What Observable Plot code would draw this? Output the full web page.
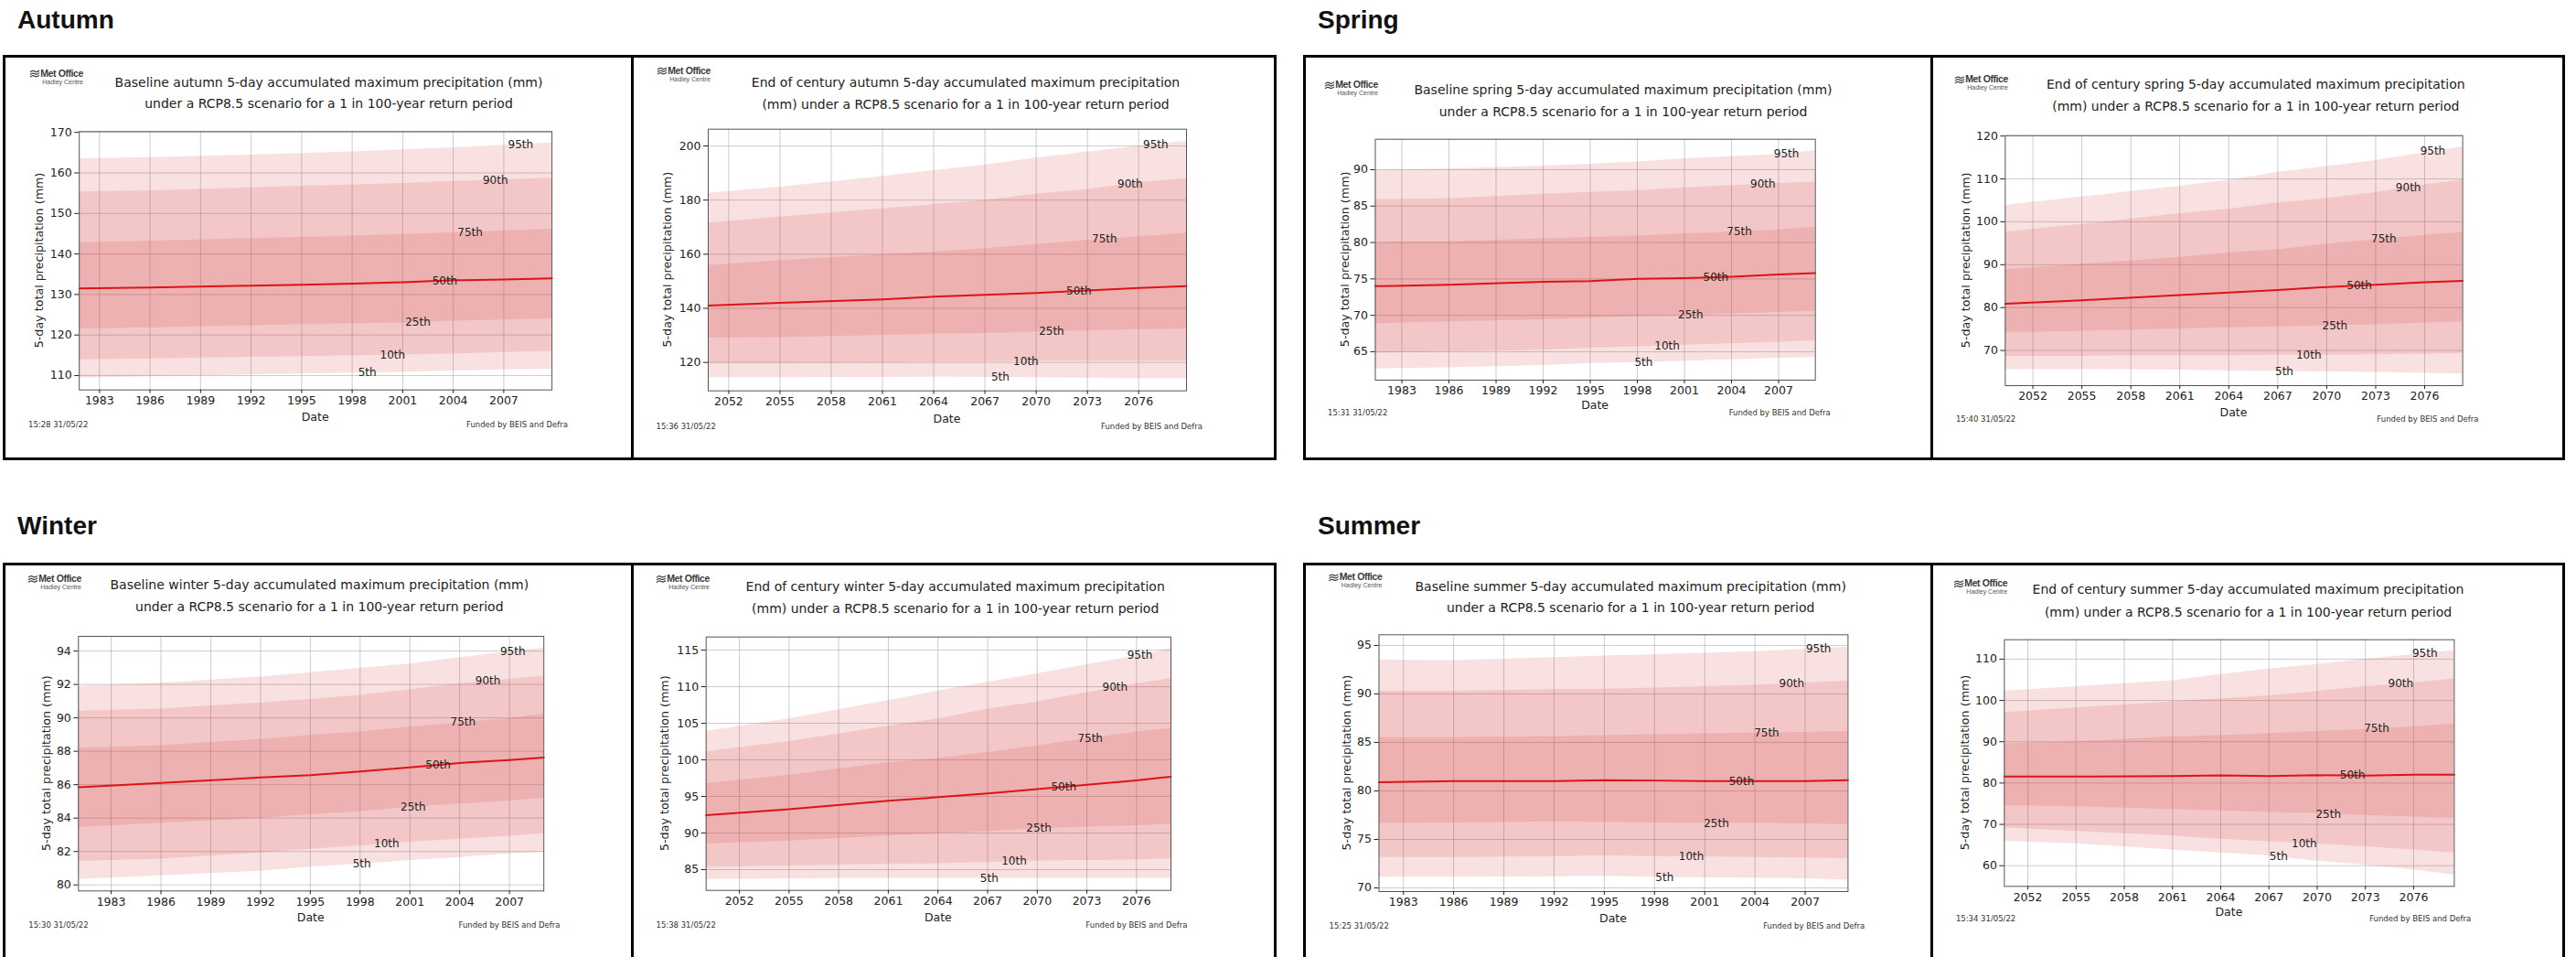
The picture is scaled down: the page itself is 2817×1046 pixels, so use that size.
<!DOCTYPE html>
<html><head><meta charset="utf-8">
<script src="https://cdn.jsdelivr.net/npm/d3@7"></script>
<script src="https://cdn.jsdelivr.net/npm/@observablehq/plot@0.6"></script>
<style>
html,body{margin:0;padding:0;background:#fff;}
body{width:2817px;height:1046px;position:relative;overflow:hidden;}
.head{position:absolute;font-family:"Liberation Sans",Arial,sans-serif;font-weight:bold;font-size:28px;color:#111;line-height:28px;white-space:nowrap;}
.box{position:absolute;border:3px solid #000;box-sizing:border-box;pointer-events:none;}
.divider{position:absolute;background:#000;width:3px;pointer-events:none;}
</style></head><body>
<script>
// ---------- data ----------
const percentiles = ["5th","10th","25th","50th","75th","90th","95th"];
const seasons = ["Autumn","Spring","Winter","Summer"];
const baselineTicks = [1983,1986,1989,1992,1995,1998,2001,2004,2007];
const futureTicks = [2052,2055,2058,2061,2064,2067,2070,2073,2076];
const stamps = {autumnBase:"15:28 31/05/22", autumnFuture:"15:36 31/05/22", springBase:"15:31 31/05/22", springFuture:"15:40 31/05/22",
  winterBase:"15:30 31/05/22", winterFuture:"15:38 31/05/22", summerBase:"15:25 31/05/22", summerFuture:"15:34 31/05/22"};

// sample years (left edge, gridline years, right edge)
const autumnBaseYears = [1981.8, 1986, 1992, 1995, 1998, 2001, 2004, 2007, 2009.86];
const springBaseYears = [1981.31, 1986, 1992, 1995, 1998, 2001, 2004, 2007, 2009.34];
const winterBaseYears = [1981.03, 1986, 1992, 1995, 1998, 2001, 2004, 2007, 2009.07];
const summerBaseYears = [1981.54, 1986, 1992, 1995, 1998, 2001, 2004, 2007, 2009.56];
const autumnFutureYears = [2050.8, 2055, 2061, 2064, 2067, 2070, 2073, 2076, 2078.8];
const springFutureYears = [2050.31, 2055, 2061, 2064, 2067, 2070, 2073, 2076, 2078.33];
const winterFutureYears = [2049.99, 2055, 2061, 2064, 2067, 2070, 2073, 2076, 2078.08];
const summerFutureYears = [2050.54, 2055, 2061, 2064, 2067, 2070, 2073, 2076, 2078.53];

// rows: 5th, 10th, 25th, 50th, 75th, 90th, 95th percentile (mm)
const autumnBase = [
  [109.4, 109.7, 110.2, 110.4, 110.6, 110.8, 111.1, 111.4, 111.5],
  [113.9, 114.1, 114.5, 114.7, 114.9, 115.1, 115.3, 115.7, 115.9],
  [121.5, 121.8, 122.3, 122.6, 122.8, 123.0, 123.4, 123.7, 124.0],
  [131.5, 131.7, 132.2, 132.4, 132.7, 133.0, 133.5, 133.7, 134.0],
  [142.8, 143.2, 143.8, 144.1, 144.4, 144.8, 145.2, 145.7, 146.1],
  [155.3, 155.6, 156.3, 156.7, 157.0, 157.4, 157.9, 158.3, 158.7],
  [163.5, 163.8, 164.4, 164.8, 165.2, 165.7, 166.2, 166.8, 167.4]];
const autumnFuture = [
  [114.4, 114.4, 114.5, 114.6, 114.5, 114.4, 114.2, 114.0, 114.0],
  [119.7, 119.7, 120.0, 120.2, 120.2, 120.5, 120.5, 120.5, 120.5],
  [129.0, 129.2, 130.0, 130.5, 130.7, 131.2, 131.7, 132.1, 132.4],
  [141.0, 142.0, 143.3, 144.3, 145.0, 145.7, 146.6, 147.5, 148.2],
  [155.9, 157.6, 159.9, 160.8, 162.1, 163.6, 165.1, 166.4, 167.8],
  [171.5, 173.7, 176.8, 178.3, 179.9, 182.2, 183.9, 186.5, 187.8],
  [182.5, 184.8, 188.7, 190.9, 192.9, 195.5, 197.7, 199.9, 201.7]];
const springBase = [
  [62.65, 62.8, 63.1, 63.4, 63.5, 63.7, 63.9, 64.1, 64.2],
  [64.8, 65.0, 65.2, 65.5, 65.7, 65.9, 66.1, 66.3, 66.5],
  [68.85, 69.1, 69.4, 69.6, 69.8, 70.0, 70.2, 70.4, 70.6],
  [74.0, 74.2, 74.6, 74.7, 75.0, 75.1, 75.3, 75.6, 75.8],
  [80.0, 80.1, 80.5, 80.7, 80.9, 81.2, 81.4, 81.75, 82.1],
  [85.9, 86.0, 86.65, 86.9, 87.1, 87.5, 87.8, 88.1, 88.3],
  [89.9, 90.1, 90.5, 90.75, 91.05, 91.5, 91.8, 92.1, 92.6]];
const springFuture = [
  [65.6, 65.6, 65.4, 65.2, 65.1, 65.0, 64.9, 64.7, 64.5],
  [68.6, 68.65, 68.8, 68.8, 68.9, 68.9, 69.0, 69.1, 69.3],
  [74.1, 74.5, 75.0, 75.3, 75.5, 75.8, 76.0, 76.4, 76.6],
  [80.9, 81.7, 82.9, 83.5, 84.1, 84.8, 85.3, 85.9, 86.2],
  [88.85, 90.1, 91.7, 92.8, 93.5, 94.8, 95.8, 96.9, 97.5],
  [97.6, 99.4, 101.9, 102.9, 104.4, 105.4, 106.8, 108.6, 109.7],
  [103.8, 105.8, 108.3, 109.7, 111.5, 112.9, 114.3, 116.1, 117.5]];
const winterBase = [
  [80.33, 80.55, 80.82, 81.06, 81.24, 81.46, 81.64, 81.86, 81.95],
  [81.41, 81.55, 81.92, 82.14, 82.34, 82.56, 82.74, 82.92, 83.07],
  [83.43, 83.69, 83.98, 84.2, 84.38, 84.66, 84.84, 85.02, 85.2],
  [85.84, 86.1, 86.43, 86.57, 86.79, 87.03, 87.3, 87.48, 87.63],
  [88.18, 88.34, 88.7, 88.95, 89.16, 89.45, 89.71, 89.95, 90.22],
  [90.4, 90.53, 90.9, 91.1, 91.35, 91.68, 92.05, 92.3, 92.5],
  [91.9, 92.08, 92.45, 92.7, 92.96, 93.23, 93.6, 93.96, 94.18]];
const winterFuture = [
  [83.67, 83.75, 83.8, 83.8, 83.8, 83.8, 83.8, 83.8, 83.8],
  [85.3, 85.5, 85.75, 85.8, 86.0, 86.2, 86.25, 86.3, 86.5],
  [88.5, 88.9, 89.6, 89.9, 90.2, 90.6, 90.8, 91.0, 91.2],
  [92.45, 93.25, 94.4, 94.9, 95.4, 96.0, 96.6, 97.2, 97.7],
  [96.75, 97.9, 99.6, 100.2, 101.0, 101.9, 102.9, 103.8, 104.3],
  [101.1, 102.5, 104.6, 105.6, 106.9, 107.9, 109.2, 110.4, 111.1],
  [103.9, 105.6, 108.1, 109.4, 110.6, 111.75, 113.0, 114.2, 115.2]];
const summerBase = [
  [71.1, 71.1, 71.16, 71.19, 71.1, 71.04, 71.0, 70.94, 70.79],
  [73.14, 73.14, 73.24, 73.3, 73.24, 73.2, 73.14, 73.08, 72.99],
  [76.67, 76.7, 76.82, 76.76, 76.7, 76.67, 76.67, 76.6, 76.54],
  [80.9, 81.0, 81.0, 81.1, 81.07, 81.0, 81.0, 81.0, 81.1],
  [85.5, 85.5, 85.6, 85.7, 85.8, 85.9, 85.97, 86.04, 86.13],
  [90.28, 90.28, 90.44, 90.5, 90.6, 90.75, 90.9, 91.13, 91.32],
  [93.5, 93.43, 93.74, 93.9, 94.06, 94.2, 94.37, 94.6, 94.84]];
const summerFuture = [
  [65.9, 65.3, 63.8, 63.1, 62.4, 61.1, 60.15, 59.0, 57.7],
  [69.2, 68.3, 67.2, 66.4, 65.8, 65.3, 64.6, 63.8, 63.1],
  [74.55, 74.3, 73.6, 73.3, 72.9, 72.6, 72.2, 71.8, 71.45],
  [81.56, 81.56, 81.7, 81.85, 81.7, 81.9, 81.8, 82.0, 82.0],
  [89.5, 90.0, 91.2, 91.5, 92.0, 92.5, 93.0, 93.6, 94.3],
  [97.1, 98.2, 99.7, 100.4, 101.1, 102.2, 103.35, 104.2, 105.2],
  [102.25, 103.35, 104.8, 106.3, 107.6, 108.7, 110.0, 111.1, 112.1]];

// year at which each percentile label is written
const autumnBaseLabelYears = [1998.9, 2000.4, 2001.9, 2003.5, 2005.0, 2006.5, 2008.0];
const springBaseLabelYears = [1998.4, 1999.9, 2001.4, 2003.0, 2004.5, 2006.0, 2007.5];
const winterBaseLabelYears = [1998.1, 1999.6, 2001.2, 2002.7, 2004.2, 2005.7, 2007.2];
const summerBaseLabelYears = [1998.6, 2000.2, 2001.7, 2003.2, 2004.7, 2006.2, 2007.8];
const autumnFutureLabelYears = [2067.9, 2069.4, 2070.9, 2072.5, 2074.0, 2075.5, 2077.0];
const springFutureLabelYears = [2067.4, 2068.9, 2070.5, 2072.0, 2073.5, 2075.0, 2076.5];
const winterFutureLabelYears = [2067.1, 2068.6, 2070.1, 2071.6, 2073.2, 2074.7, 2076.2];
const summerFutureLabelYears = [2067.6, 2069.2, 2070.7, 2072.2, 2073.7, 2075.2, 2076.7];

// y axis domains and ticks
const autumnBaseY = [106.45, 170.2], autumnBaseTicks = [110,120,130,140,150,160,170];
const autumnFutureY = [109.5, 206.2], autumnFutureTicks = [120,140,160,180,200];
const springBaseY = [61.1, 94.18], springBaseTicks = [65,70,75,80,85,90];
const springFutureY = [61.8, 120.1], springFutureTicks = [70,80,90,100,110,120];
const winterBaseY = [79.64, 94.88], winterBaseTicks = [80,82,84,86,88,90,92,94];
const winterFutureY = [82.16, 116.8], winterFutureTicks = [85,90,95,100,105,110,115];
const summerBaseY = [69.62, 96.1], summerBaseTicks = [70,75,80,85,90,95];
const summerFutureY = [55.0, 114.7], summerFutureTicks = [60,70,80,90,100,110];

// ---------- layout (page pixels) ----------
const panels = [
  {season:"autumn", kind:"base", years:autumnBaseYears, series:autumnBase, yDomain:autumnBaseY, yTicks:autumnBaseTicks, labelYears:autumnBaseLabelYears, stamp:stamps.autumnBase,
   box:[6,62,684,438], frame:[86.2,143.3,603.1,425.7], titleX:359.5, titleY:[90,113.3], ylabX:42.4, dateY:455.7, footY:464, stampX:31, fundX:621, logo:[91,80]},
  {season:"autumn", kind:"future", years:autumnFutureYears, series:autumnFuture, yDomain:autumnFutureY, yTicks:autumnFutureTicks, labelYears:autumnFutureLabelYears, stamp:stamps.autumnFuture,
   box:[693,62,699,438], frame:[774,140.7,1297,426.7], titleX:1056, titleY:[90,114.3], ylabX:729, dateY:457.3, footY:465.7, stampX:717.5, fundX:1315, logo:[777,77]},
  {season:"spring", kind:"base", years:springBaseYears, series:springBase, yDomain:springBaseY, yTicks:springBaseTicks, labelYears:springBaseLabelYears, stamp:stamps.springBase,
   box:[1428,62,683,438], frame:[1503.5,151.7,1984.7,415], titleX:1775, titleY:[97.7,121.7], ylabX:1470, dateY:442.7, footY:450.7, stampX:1452, fundX:2001.7, logo:[1507,92.7]},
  {season:"spring", kind:"future", years:springFutureYears, series:springFuture, yDomain:springFutureY, yTicks:springFutureTicks, labelYears:springFutureLabelYears, stamp:stamps.springFuture,
   box:[2114,62,687,438], frame:[2192.4,147.7,2692.6,421], titleX:2466.8, titleY:[91.7,115.7], ylabX:2149.4, dateY:450, footY:458.3, stampX:2138.9, fundX:2710.4, logo:[2196,86.7]},
  {season:"winter", kind:"base", years:winterBaseYears, series:winterBase, yDomain:winterBaseY, yTicks:winterBaseTicks, labelYears:winterBaseLabelYears, stamp:stamps.winterBase,
   box:[6,618,684,428], frame:[85.3,695,594.2,973.3], titleX:349.3, titleY:[638.7,662.7], ylabX:50, dateY:1002.7, footY:1011, stampX:31.3, fundX:612.5, logo:[89,632.3]},
  {season:"winter", kind:"future", years:winterFutureYears, series:winterFuture, yDomain:winterFutureY, yTicks:winterFutureTicks, labelYears:winterFutureLabelYears, stamp:stamps.winterFuture,
   box:[693,618,699,428], frame:[771.7,695.7,1280,972.7], titleX:1044.7, titleY:[640.7,665], ylabX:726.7, dateY:1002.7, footY:1011, stampX:717.5, fundX:1298.4, logo:[776,632.3]},
  {season:"summer", kind:"base", years:summerBaseYears, series:summerBase, yDomain:summerBaseY, yTicks:summerBaseTicks, labelYears:summerBaseLabelYears, stamp:stamps.summerBase,
   box:[1428,618,683,428], frame:[1507.5,693.3,2020.4,974], titleX:1783.2, titleY:[640.7,664.3], ylabX:1472.2, dateY:1003.3, footY:1012, stampX:1453.5, fundX:2039.2, logo:[1511.5,630.7]},
  {season:"summer", kind:"future", years:summerFutureYears, series:summerFuture, yDomain:summerFutureY, yTicks:summerFutureTicks, labelYears:summerFutureLabelYears, stamp:stamps.summerFuture,
   box:[2114,618,687,428], frame:[2191.4,698.7,2683.4,968.3], titleX:2458.5, titleY:[644.3,669], ylabX:2148, dateY:996.7, footY:1004, stampX:2138.9, fundX:2702.2, logo:[2195.1,637.7]}
];

function interp(xs, ys, x) {
  const i = Math.max(1, Math.min(xs.length - 1, d3.bisectLeft(xs, x)));
  const t = (x - xs[i-1]) / (xs[i] - xs[i-1]);
  return ys[i-1] + t * (ys[i] - ys[i-1]);
}

const FONT = "'DejaVu Sans', sans-serif";
const BAND = "#d62728";

for (const p of panels) {
  const rows = p.years.map((yr, i) => ({year: yr, p5: p.series[0][i], p10: p.series[1][i], p25: p.series[2][i], p50: p.series[3][i], p75: p.series[4][i], p90: p.series[5][i], p95: p.series[6][i]}));
  const labels = percentiles.map((name, k) => ({year: p.labelYears[k], value: interp(p.years, p.series[k], p.labelYears[k]), text: name}));
  const xTicks = p.kind === "base" ? baselineTicks : futureTicks;
  const [bx, by, bw, bh] = p.box;
  const [fx0, fy0, fx1, fy1] = p.frame;
  const svg = Plot.plot({
    width: bw, height: bh,
    marginLeft: fx0 - bx, marginTop: fy0 - by, marginRight: bx + bw - fx1, marginBottom: by + bh - fy1,
    x: {domain: [p.years[0], p.years[p.years.length - 1]]},
    y: {domain: p.yDomain},
    style: {fontFamily: FONT, fontSize: "12.5px", color: "#222", background: "transparent", overflow: "visible"},
    marks: [
      Plot.gridX(xTicks, {stroke: "#b0b0b0", strokeOpacity: 0.65, strokeWidth: 1}),
      Plot.gridY(p.yTicks, {stroke: "#b0b0b0", strokeOpacity: 0.65, strokeWidth: 1}),
      Plot.areaY(rows, {x: "year", y1: "p5", y2: "p95", fill: BAND, fillOpacity: 0.14}),
      Plot.areaY(rows, {x: "year", y1: "p10", y2: "p90", fill: BAND, fillOpacity: 0.14}),
      Plot.areaY(rows, {x: "year", y1: "p25", y2: "p75", fill: BAND, fillOpacity: 0.14}),
      Plot.lineY(rows, {x: "year", y: "p50", stroke: "#dc1418", strokeWidth: 2}),
      Plot.text(labels, {x: "year", y: "value", text: "text", fontSize: 12, fill: "#222"}),
      Plot.frame({stroke: "#555", strokeWidth: 1}),
      Plot.axisX(xTicks, {tickFormat: d => String(d), tickSize: 4, tickPadding: 3, label: null}),
      Plot.axisY(p.yTicks, {tickFormat: d => String(d), tickSize: 5, tickPadding: 3, label: null})
    ]
  });
  svg.style.position = "absolute";
  svg.style.left = bx + "px";
  svg.style.top = by + "px";
  document.body.appendChild(svg);

  const g = d3.select(svg).append("g").attr("font-family", FONT).attr("fill", "#222").attr("text-anchor", "start");
  const L = x => x - bx, T = y => y - by;
  const lines = p.kind === "base"
    ? [`Baseline ${p.season} 5-day accumulated maximum precipitation (mm)`, "under a RCP8.5 scenario for a 1 in 100-year return period"]
    : [`End of century ${p.season} 5-day accumulated maximum precipitation`, "(mm) under a RCP8.5 scenario for a 1 in 100-year return period"];
  lines.forEach((s, i) => g.append("text").attr("x", L(p.titleX)).attr("y", T(p.titleY[i])).attr("text-anchor", "middle")
    .attr("dominant-baseline", "central").attr("font-size", 14).text(s));
  g.append("text").attr("transform", `translate(${L(p.ylabX)},${T((fy0 + fy1) / 2)}) rotate(-90)`).attr("text-anchor", "middle")
    .attr("dominant-baseline", "central").attr("font-size", 12.7).text("5-day total precipitation (mm)");
  g.append("text").attr("x", L((fx0 + fx1) / 2)).attr("y", T(p.dateY)).attr("text-anchor", "middle").attr("dominant-baseline", "central")
    .attr("font-size", 12.5).text("Date");
  g.append("text").attr("x", L(p.stampX)).attr("y", T(p.footY)).attr("text-anchor", "start").attr("dominant-baseline", "central")
    .attr("font-size", 8.5).attr("fill", "#333").text(p.stamp);
  g.append("text").attr("x", L(p.fundX)).attr("y", T(p.footY)).attr("text-anchor", "end").attr("dominant-baseline", "central")
    .attr("font-size", 8.5).attr("fill", "#333").text("Funded by BEIS and Defra");
  // Met Office logo
  const [lx, ly] = p.logo;
  const logo = g.append("g").attr("font-family", "'Liberation Sans', Arial, sans-serif").attr("fill", "#3a3a3a");
  logo.append("text").attr("x", L(lx)).attr("y", T(ly + 3.6)).attr("text-anchor", "end").attr("font-size", 10.5)
    .attr("font-weight", "bold").attr("letter-spacing", "-0.4").text("Met Office");
  logo.append("text").attr("x", L(lx)).attr("y", T(ly + 11.5)).attr("text-anchor", "end").attr("font-size", 7)
    .attr("fill", "#555").text("Hadley Centre");
  for (let i = 0; i < 3; i++) {
    const sx = L(lx - 58), sy = T(ly - 2.5 + i * 2.6);
    logo.append("path").attr("d", `M${sx},${sy + 1.5} q2.5,-2.5 5,-1 t5,-1`).attr("fill", "none").attr("stroke", "#3a3a3a").attr("stroke-width", 1.2);
  }
}

// ---------- season frames and headings ----------
const boxes = [
  {name: seasons[0], left: 3, top: 60, width: 1393, height: 443, divider: 690, headX: 19, headBase: 32},
  {name: seasons[1], left: 1425, top: 60, width: 1380, height: 443, divider: 2111, headX: 1441, headBase: 32},
  {name: seasons[2], left: 3, top: 615, width: 1393, height: 470, divider: 690, headX: 19, headBase: 585},
  {name: seasons[3], left: 1425, top: 615, width: 1380, height: 470, divider: 2111, headX: 1441, headBase: 585}
];
for (const b of boxes) {
  const box = document.createElement("div");
  box.className = "box";
  Object.assign(box.style, {left: b.left + "px", top: b.top + "px", width: b.width + "px", height: b.height + "px"});
  document.body.appendChild(box);
  const dv = document.createElement("div");
  dv.className = "divider";
  Object.assign(dv.style, {left: b.divider + "px", top: b.top + "px", height: b.height + "px"});
  document.body.appendChild(dv);
  const h = document.createElement("div");
  h.className = "head";
  h.textContent = b.name;
  Object.assign(h.style, {left: b.headX + "px", top: (b.headBase - 24) + "px"});
  document.body.appendChild(h);
}
</script>
</body></html>
